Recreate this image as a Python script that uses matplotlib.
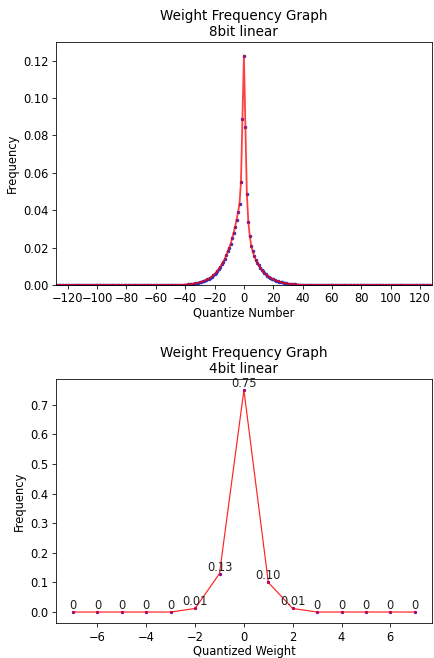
import matplotlib
matplotlib.use('Agg')
import matplotlib.pyplot as plt

plt.rcParams['font.size'] = 11.5
plt.rcParams['axes.titlesize'] = 13.5
plt.rcParams['xtick.major.size'] = 4
plt.rcParams['ytick.major.size'] = 4

# 8bit: quantize numbers -128..127, frequency (zero outside about +-41)
q8 = list(range(-128, 128))
left_tail = [0.0001, 0.0002, 0.0002, 0.0003, 0.0004, 0.0005, 0.0006, 0.0007, 0.0008, 0.0010,   # -41..-32
             0.0012, 0.0014, 0.0016, 0.0019, 0.0022, 0.0026, 0.0030, 0.0034, 0.0039, 0.0045,   # -31..-22
             0.0051, 0.0058, 0.0066, 0.0076, 0.0087, 0.0098, 0.0110, 0.0125, 0.0140, 0.0160,   # -21..-12
             0.0180, 0.0200, 0.0220, 0.0250, 0.0280, 0.0310, 0.0350, 0.0390, 0.0434, 0.0553,   # -11..-2
             0.0889]                                                                           # -1
center = [0.1228]                                                                              # 0
right_tail = [0.0848, 0.0487, 0.0339, 0.0260, 0.0210, 0.0180, 0.0155, 0.0135, 0.0120, 0.0105, # 1..10
              0.0093, 0.0082, 0.0073, 0.0064, 0.0057, 0.0050, 0.0044, 0.0039, 0.0034, 0.0030,  # 11..20
              0.0026, 0.0023, 0.0020, 0.0017, 0.0015, 0.0013, 0.0011, 0.0009, 0.0008, 0.0007,  # 21..30
              0.0006, 0.0005, 0.0004, 0.0003, 0.0003, 0.0002, 0.0002, 0.0001, 0.0001, 0.0001]  # 31..40
freq8 = [0.0] * 87 + left_tail + center + right_tail + [0.0] * 87

# 4bit
q4 = [-7, -6, -5, -4, -3, -2, -1, 0, 1, 2, 3, 4, 5, 6, 7]
freq4 = [0, 0, 0, 0, 0, 0.012, 0.13, 0.75, 0.10, 0.012, 0, 0, 0, 0, 0]

fig = plt.figure(figsize=(434 / 72, 658 / 72), dpi=72)
ax1 = fig.add_axes([0.129, 0.567, 0.866, 0.369])
ax2 = fig.add_axes([0.129, 0.053, 0.866, 0.371])

ax1.plot(q8, freq8, '.', color='#3030c0', ms=5)
ax1.plot(q8, freq8, '-', color='red', lw=1.8, alpha=0.75)
ax1.set_xlim(-128, 128)
ax1.set_ylim(0, 0.13)
ax1.set_xticks(range(-120, 121, 20))
ax1.set_title('Weight Frequency Graph\n8bit linear')
ax1.set_xlabel('Quantize Number', labelpad=1)
ax1.set_ylabel('Frequency')

ax2.plot(q4, freq4, '.', color='#8000a0', ms=4.5)
ax2.plot(q4, freq4, '-', color='red', lw=1.2, alpha=0.85)
for x, y in zip(q4, freq4):
    lab = '0' if y == 0 else '%.2f' % y
    ax2.text(x, y, lab, ha='center', va='bottom', fontsize=11.5, color='#222222')
ax2.set_title('Weight Frequency Graph\n4bit linear')
ax2.set_xlabel('Quantized Weight', labelpad=1)
ax2.set_ylabel('Frequency')

fig.savefig('out.png', dpi=72)
